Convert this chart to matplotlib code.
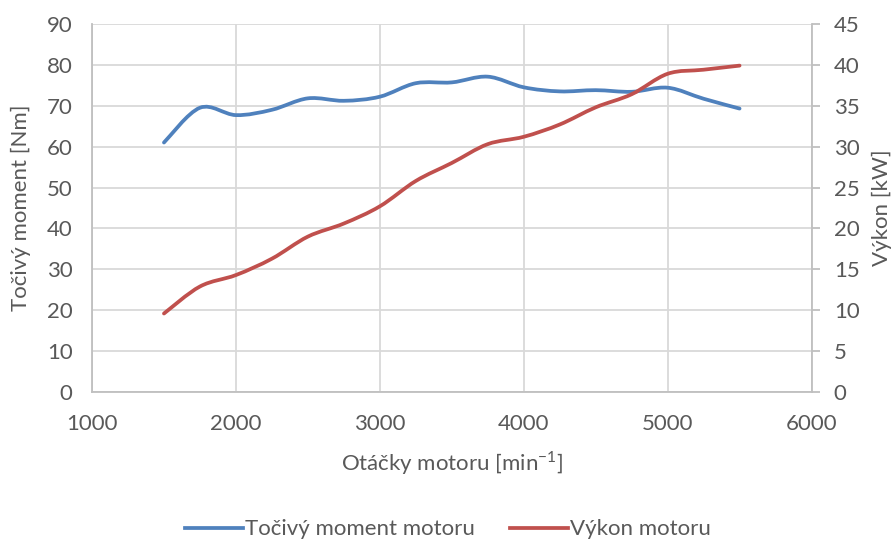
import numpy as np
import matplotlib
matplotlib.use("Agg")
import matplotlib.pyplot as plt
from matplotlib.path import Path
from matplotlib.patches import PathPatch
from matplotlib.lines import Line2D

plt.rcParams['font.family'] = ['Lato', 'DejaVu Sans']
plt.rcParams['mathtext.fontset'] = 'custom'
plt.rcParams['mathtext.rm'] = 'Lato'

# engine speed [1/min]
rpm = [1500, 1750, 2000, 2250, 2500, 2750, 3000, 3250, 3500,
       3750, 4000, 4250, 4500, 4750, 5000, 5250, 5500]
# torque [Nm]
torque = [61.0, 69.5, 67.7, 69.0, 71.8, 71.2, 72.2, 75.5, 75.7,
          77.1, 74.5, 73.5, 73.8, 73.4, 74.4, 71.7, 69.3]
# power [kW]
power = [9.6, 12.9, 14.3, 16.3, 19.0, 20.6, 22.7, 25.8, 28.0,
         30.3, 31.2, 32.7, 34.8, 36.4, 38.9, 39.4, 39.9]

c_torque = '#4f81bd'
c_power = '#c0504d'
txt = '#595959'
grid_c = '#d9d9d9'
spine_c = '#bfbfbf'


def smooth_path(x, y):
    # cubic bezier through every point, like a spreadsheet "smoothed line"
    x = np.asarray(x, float)
    y = np.asarray(y, float)
    pts = np.column_stack([x, y])
    verts = [pts[0]]
    codes = [Path.MOVETO]
    n = len(pts)
    for i in range(n - 1):
        p0 = pts[i - 1] if i > 0 else pts[i]
        p1 = pts[i]
        p2 = pts[i + 1]
        p3 = pts[i + 2] if i + 2 < n else pts[i + 1]
        c1 = p1 + (p2 - p0) / 6.0
        c2 = p2 - (p3 - p1) / 6.0
        verts += [c1, c2, p2]
        codes += [Path.CURVE4] * 3
    return Path(verts, codes)


fig = plt.figure(figsize=(8.96, 5.43), dpi=100)
ax = fig.add_axes([0.1027, 0.278, 0.803, 0.678])
ax2 = ax.twinx()

ax.set_xlim(1000, 6000)
ax.set_ylim(0, 90)
ax2.set_ylim(0, 45)
ax.set_xticks(np.arange(1000, 6001, 1000))
ax.set_yticks(np.arange(0, 91, 10))
ax2.set_yticks(np.arange(0, 46, 5))

ax.grid(True, color=grid_c, lw=1.3)
ax.set_axisbelow(True)

ax.add_patch(PathPatch(smooth_path(rpm, torque), fill=False, ec=c_torque,
                       lw=2.7, capstyle='round', joinstyle='round'))
ax2.add_patch(PathPatch(smooth_path(rpm, power), fill=False, ec=c_power,
                        lw=2.7, capstyle='round', joinstyle='round'))

for a in (ax, ax2):
    for s in a.spines.values():
        s.set_visible(False)
ax.spines['left'].set_visible(True)
ax.spines['left'].set_color(spine_c)
ax.spines['left'].set_linewidth(1.3)
ax.spines['bottom'].set_visible(True)
ax.spines['bottom'].set_color(spine_c)
ax.spines['bottom'].set_linewidth(1.3)
ax2.spines['right'].set_visible(True)
ax2.spines['right'].set_color(spine_c)
ax2.spines['right'].set_linewidth(1.3)

fs = 16
ax.tick_params(axis='both', length=0, labelsize=fs, labelcolor=txt)
ax.tick_params(axis='y', pad=14)
ax.tick_params(axis='x', pad=16)
ax2.tick_params(axis='y', length=6, width=1.3, color=spine_c,
                labelsize=fs, labelcolor=txt, pad=10)

ax.set_xlabel(r'Otáčky motoru [min$^{\mathregular{-1}}$]', fontsize=fs,
              color=txt, labelpad=11)
ax.set_ylabel('Točivý moment [Nm]', fontsize=fs, color=txt, labelpad=11)
ax2.set_ylabel('Výkon [kW]', fontsize=fs, color=txt, labelpad=9)

handles = [Line2D([], [], color=c_torque, lw=2.7),
           Line2D([], [], color=c_power, lw=2.7)]
fig.legend(handles, ['Točivý moment motoru', 'Výkon motoru'],
           loc='lower center', bbox_to_anchor=(0.5, -0.03), ncol=2,
           frameon=False, fontsize=fs, labelcolor=txt,
           handlelength=2.6, handletextpad=0.1, columnspacing=1.6)

fig.savefig('out.png', dpi=100)
